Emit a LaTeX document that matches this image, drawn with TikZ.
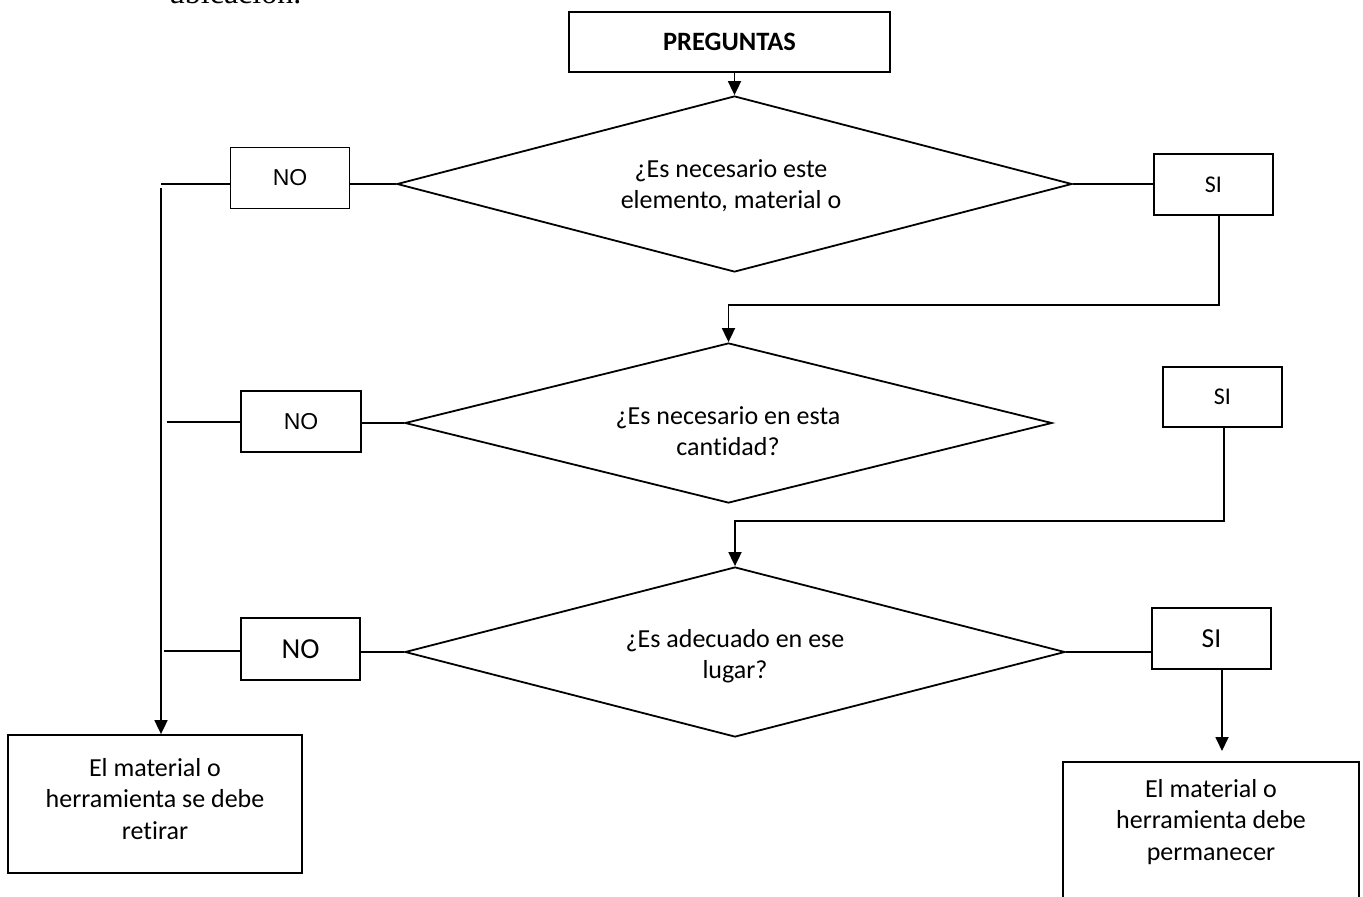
\documentclass[tikz,border=0pt]{standalone}
\usepackage{fontspec}
\setmainfont{Carlito}[Ligatures=NoCommon]
\newfontfamily\arialf{Liberation Sans}
\newfontfamily\timesf{Liberation Serif}
\usetikzlibrary{arrows.meta,shapes.geometric}
\begin{document}
\begin{tikzpicture}[x=1pt,y=-1pt,line width=1.8pt,
  box/.style={draw,rectangle,inner sep=0pt,minimum width=119pt,minimum height=61pt},
  dia/.style={draw,diamond,inner sep=0pt},
  body/.style={font=\fontsize{26}{31.5}\selectfont,align=center,inner sep=0pt},
  nofont/.style={font=\arialf\fontsize{23}{27}\selectfont},
  sifont/.style={font=\fontsize{24}{29}\selectfont},
  arr/.style={-{Triangle[width=13pt,length=14pt]}}]
\useasboundingbox (0,0) rectangle (1363,897);
\coordinate (bot) at (0,897);
% top text (cut)
\node[font=\timesf\fontsize{32}{38}\selectfont,anchor=base west,inner sep=0pt] (ub) at (168,3) {ubicación.};
% nodes
\node[box,minimum width=321pt,minimum height=60pt,font=\bfseries\fontsize{26.5}{31}\selectfont] (preg) at (729.5,42) {PREGUNTAS};
\node[dia,minimum width=675pt,minimum height=176pt] (d1) at (734.5,184) {};
\node[body] (q1) at (731,185.5) {¿Es necesario este\\elemento, material o};
\node[box,nofont] (no1) at (290,178) {NO};
\node[box,sifont] (si1) at (1213.5,184.5) {SI};
\node[dia,minimum width=647pt,minimum height=160pt] (d2) at (728.5,423) {};
\node[body] (q2) at (728,431) {¿Es necesario en esta\\cantidad?};
\node[box,nofont,minimum width=120pt] (no2) at (301,421.5) {NO};
\node[box,sifont,minimum height=60pt] (si2) at (1222.5,397) {SI};
\node[dia,minimum width=660pt,minimum height=170pt] (d3) at (735,652) {};
\node[body] (q3) at (735,656) {¿Es adecuado en ese\\lugar?};
\node[box,font=\fontsize{29}{35}\selectfont,minimum height=62pt] (no3) at (300.5,649) {NO};
\node[box,font=\fontsize{27.5}{33}\selectfont] (si3) at (1211.5,638.5) {SI};
\node[box,minimum width=294pt,minimum height=138pt] (lb) at (155,804) {};
\node[body] (lt) at (155,799) {El material o\\herramienta se debe\\retirar};
\node[body,minimum width=294pt,minimum height=118pt] (rb) at (1211,822) {El material o\\herramienta debe\\permanecer};
\draw (rb.north west |- bot) -- (rb.north west) -- (rb.north east) -- (rb.north east |- bot);
% connectors
\draw[arr] (preg.south -| d1.north) -- (d1.north);
\draw (d1.west) -- (d1.west -| no1.east);
\coordinate (t1) at (161,184);
\draw (no1.west |- t1) -- (t1);
\coordinate (t0) at (161,188);
\draw[arr] (t0) -- (t0 |- lb.north);
\draw (d1.east) -- (d1.east -| si1.west);
\coordinate (c1) at (1219,305);
\draw[arr] (c1 |- si1.south) -- (c1) -- (c1 -| d2.north) -- (d2.north);
\draw (d2.west) -- (d2.west -| no2.east);
\coordinate (t2) at (167,422);
\draw (no2.west |- t2) -- (t2);
\coordinate (c2) at (1224,521);
\draw[arr] (c2 |- si2.south) -- (c2) -- (c2 -| d3.north) -- (d3.north);
\draw (d3.west) -- (d3.west -| no3.east);
\coordinate (t3) at (164,651);
\draw (no3.west |- t3) -- (t3);
\draw (d3.east) -- (d3.east -| si3.west);
\coordinate (a3) at (1222,751);
\draw[arr] (a3 |- si3.south) -- (a3);
\end{tikzpicture}
\end{document}
